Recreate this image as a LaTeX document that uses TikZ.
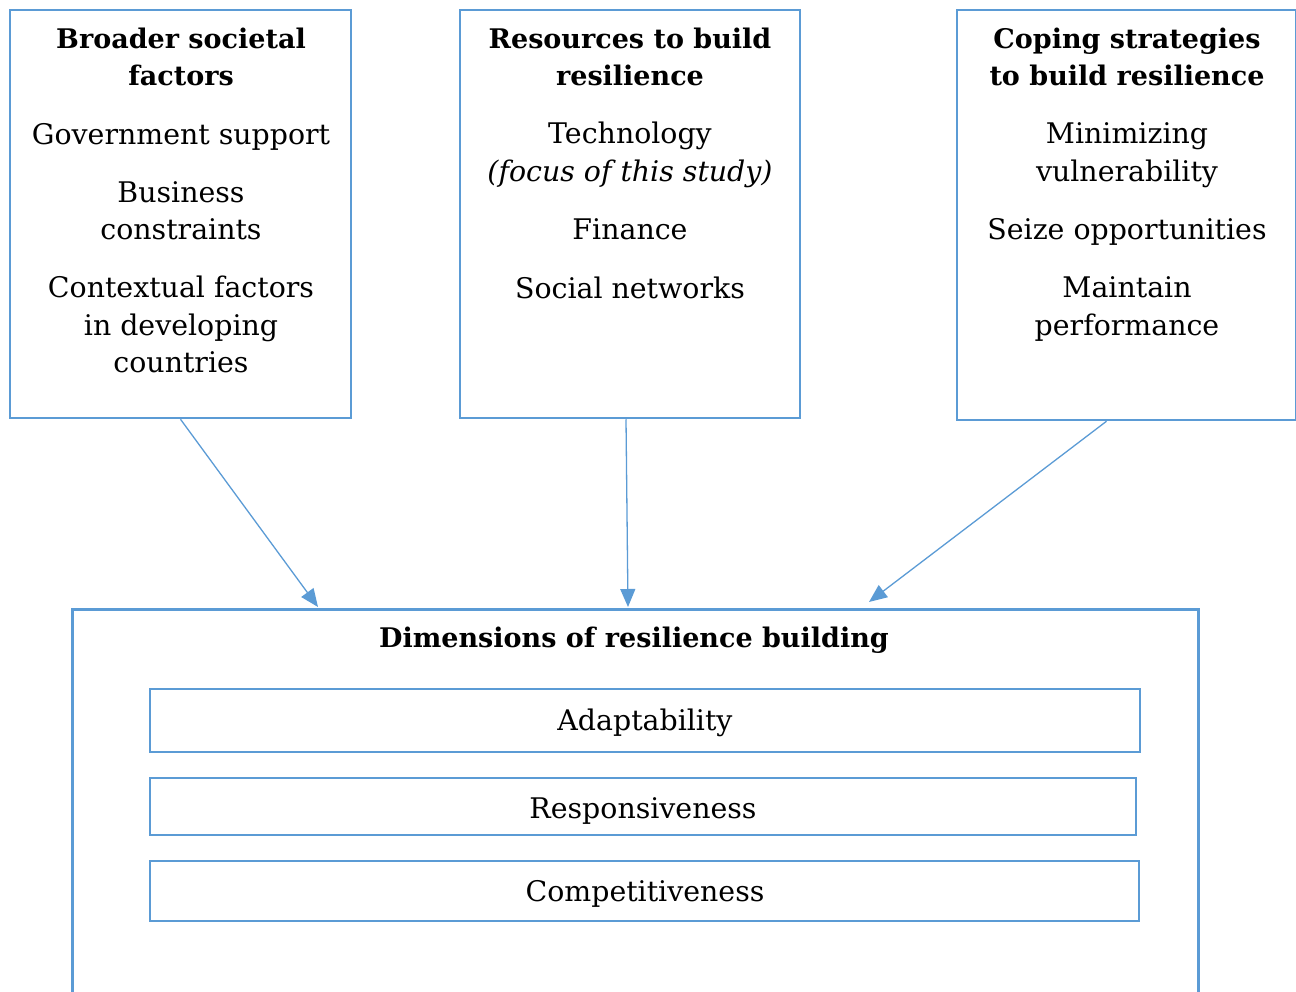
\documentclass[tikz,border=0pt]{standalone}
\usepackage{fontspec}
\setmainfont{DejaVu Serif}
\usetikzlibrary{arrows.meta}
\definecolor{bl}{HTML}{5B9BD5}
\begin{document}
\begin{tikzpicture}[x=1pt,y=1pt,
  box/.style={draw=bl,line width=2.5pt,inner sep=0pt},
  txt/.style={anchor=base,inner sep=0pt,font=\fontsize{28.4}{34}\selectfont},
  ttl/.style={anchor=base,inner sep=0pt,font=\fontsize{27}{32}\selectfont\bfseries},
  arr/.style={draw=bl,line width=1.3pt,-{Triangle[length=18pt,width=15pt]}}]
\useasboundingbox (0,0) rectangle (1296,-992);
% top boxes
\node[box,minimum width=341pt,minimum height=408pt] (b1) at (180.5,-214) {};
\node[box,minimum width=340pt,minimum height=408pt] (b2) at (630,-214) {};
\node[box,minimum width=339pt,minimum height=410pt] (b3) at (1126.5,-215) {};
% bottom box
\node[box,minimum width=1126pt,minimum height=420pt,anchor=north west] (dim) at (71,-608) {};
\node[box,minimum width=990pt,minimum height=63pt] (ad) at (645,-720.5) {};
\node[box,minimum width=986pt,minimum height=57pt] (re) at (643,-806.5) {};
\node[box,minimum width=989pt,minimum height=60pt] (co) at (644.5,-891) {};
% texts box 1
\node[ttl] (t1a) at (181,-49) {Broader societal};
\node[ttl] (t1b) at (181,-86) {factors};
\node[txt] (t1c) at (181,-145) {Government support};
\node[txt] (t1d) at (181,-203) {Business};
\node[txt] (t1e) at (181,-240) {constraints};
\node[txt] (t1f) at (181,-298) {Contextual factors};
\node[txt] (t1g) at (181,-336) {in developing};
\node[txt] (t1h) at (181,-373) {countries};
% texts box 2
\node[ttl] (t2a) at (630,-49) {Resources to build};
\node[ttl] (t2b) at (630,-86) {resilience};
\node[txt] (t2c) at (630,-144) {Technology};
\node[txt] (t2d) at (630,-182) {\itshape (focus of this study)};
\node[txt] (t2e) at (630,-240) {Finance};
\node[txt] (t2f) at (630,-299) {Social networks};
% texts box 3
\node[ttl] (t3a) at (1127,-49) {Coping strategies};
\node[ttl] (t3b) at (1127,-86) {to build resilience};
\node[txt] (t3c) at (1127,-144) {Minimizing};
\node[txt] (t3d) at (1127,-182) {vulnerability};
\node[txt] (t3e) at (1127,-240) {Seize opportunities};
\node[txt] (t3f) at (1127,-298) {Maintain};
\node[txt] (t3g) at (1127,-336) {performance};
% bottom texts
\node[ttl] (t4) at (634,-647) {Dimensions of resilience building};
\node[txt] (t5) at (645,-730) {Adaptability};
\node[txt] (t6) at (643,-818) {Responsiveness};
\node[txt] (t7) at (645,-901) {Competitiveness};
% arrows
\coordinate (e1) at (318,-607);
\coordinate (e2) at (628,-607);
\coordinate (e3) at (869,-602);
\draw[arr] (b1.south) -- (e1);
\draw[arr] ([xshift=-4pt]b2.south) -- (e2);
\draw[arr] ([xshift=-20pt]b3.south) -- (e3);
\end{tikzpicture}
\end{document}
